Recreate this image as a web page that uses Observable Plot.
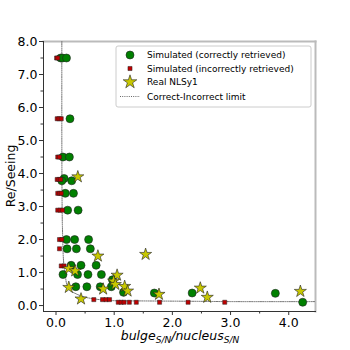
<!DOCTYPE html>
<html><head><meta charset="utf-8">
<script src="https://cdn.jsdelivr.net/npm/d3@7"></script>
<script src="https://cdn.jsdelivr.net/npm/@observablehq/plot@0.6"></script>
<style>body{margin:0;background:#fff} svg{font-family:"DejaVu Sans"}</style>
</head><body><div id="chart"></div>
<script>
// Simulated (correctly retrieved)
const correctX = [0.08,0.11,0.18, 0.24, 0.12,0.23, 0.14,0.10,0.27, 0.16,0.30, 0.20,0.38,
  0.18,0.32,0.56, 0.19,0.35,0.59, 0.26,0.43,0.69, 0.12,0.37,0.55,0.78,0.97,
  0.34,0.53,0.76,0.95,1.16, 1.69,2.34,3.77,4.24];
const correctY = [7.5,7.5,7.5, 5.66, 4.5,4.5, 3.85,3.78,3.78, 3.4,3.4, 2.89,2.89,
  2.0,2.0,2.0, 1.72,1.72,1.72, 1.22,1.22,1.22, 0.94,0.94,0.94,0.94,0.78,
  0.57,0.57,0.57,0.57,0.40, 0.38,0.38,0.37,0.10];
// Simulated (incorrectly retrieved)
const incorrectX = [0.01,0.03, 0.02,0.05,0.09, 0.03,0.06, 0.02,0.05,0.08, 0.03,0.06,0.09,
  0.03,0.07,0.11, 0.06,0.10, 0.06, 0.09,0.14,
  0.65,0.80,0.86,0.92, 1.07,1.12,1.17,1.26,1.38,1.78,2.27,2.90];
const incorrectY = [7.5,7.5, 5.66,5.66,5.66, 4.5,4.5, 3.82,3.82,3.82, 3.4,3.4,3.4,
  2.89,2.89,2.89, 2.0,2.0, 1.72, 1.2,1.2,
  0.18,0.18,0.18,0.18, 0.1,0.1,0.1,0.1,0.1,0.1,0.1,0.1];
// Real NLSy1
const realX = [0.375,0.72,1.54,0.22,0.33,1.05,0.99,1.02,0.22,0.81,1.18,1.23,0.43,1.77,2.48,2.60,4.20];
const realY = [3.90,1.50,1.55,1.12,1.05,0.92,0.74,0.64,0.55,0.50,0.58,0.44,0.20,0.34,0.53,0.25,0.43];
// Correct-Incorrect limit
const limitX = [0.10,0.10,0.105,0.11,0.13,0.16,0.19,0.25,0.34,0.45,0.62,0.97,1.5,2.3,3.0,4.46];
const limitY = [8.0,5.0,3.0,2.4,1.35,0.9,0.62,0.45,0.36,0.28,0.21,0.15,0.14,0.13,0.12,0.12];

const xTicks = [0,1,2,3,4];
const xMinorTicks = [0.5,1.5,2.5,3.5];
const yTicks = [0,1,2,3,4,5,6,7,8];
const yMinorTicks = [0.5,1.5,2.5,3.5,4.5,5.5,6.5,7.5];
const legendLabels = ["Simulated (correctly retrieved)","Simulated (incorrectly retrieved)","Real NLSy1","Correct-Incorrect limit"];

const rows = (xs, ys) => xs.map((x, i) => ({x, y: ys[i]}));
const correct = rows(correctX, correctY);
const incorrect = rows(incorrectX, incorrectY);
const real = rows(realX, realY);
const limit = rows(limitX, limitY);

const colGreen = "#008000", colRed = "#c00000", colYellow = "#c8c800", edge = "#222";

const plot = Plot.plot({
  width: 350, height: 350,
  marginLeft: 43, marginRight: 35, marginTop: 41, marginBottom: 39,
  style: {fontFamily: "DejaVu Sans", fontSize: "12.5px", color: "#000", background: "#fff", overflow: "visible"},
  x: {domain: [-0.215, 4.46]},
  y: {domain: [-0.18, 8.0]},
  marks: [
    Plot.frame({anchor: "top", stroke: "#bbb", strokeWidth: 2}),
    Plot.frame({anchor: "right", stroke: "#bbb", strokeWidth: 2}),
    Plot.frame({anchor: "left", stroke: "#333", strokeWidth: 1}),
    Plot.frame({anchor: "bottom", stroke: "#333", strokeWidth: 1}),
    Plot.line(limit, {x: "x", y: "y", stroke: "#666", strokeWidth: 1, strokeDasharray: "1,1.2", curve: "catmull-rom"}),
    Plot.dot(correct, {x: "x", y: "y", r: 4, fill: colGreen, stroke: edge, strokeWidth: 0.6}),
    Plot.dot(incorrect, {x: "x", y: "y", symbol: "square", r: 2.3, fill: colRed, stroke: edge, strokeWidth: 0.5}),
    Plot.dot(real, {x: "x", y: "y", symbol: "star", r: 3.8, fill: colYellow, stroke: edge, strokeWidth: 0.6}),
    Plot.axisX({ticks: xTicks, tickFormat: d => d.toFixed(1), tickSize: 4, tickPadding: 3, label: null, stroke: "#333"}),
    Plot.axisX({ticks: xMinorTicks, tickFormat: () => "", tickSize: 2.5, label: null, stroke: "#333"}),
    Plot.axisY({ticks: yTicks, tickFormat: d => d.toFixed(1), tickSize: 4, tickPadding: 2, label: null, stroke: "#333"}),
    Plot.axisY({ticks: yMinorTicks, tickFormat: () => "", tickSize: 2.5, label: null, stroke: "#333"})
  ]
});
document.getElementById("chart").appendChild(plot);

const svg = d3.select(plot);
// axis titles
svg.append("text")
  .attr("transform", "translate(15,176) rotate(-90)")
  .attr("text-anchor", "middle").attr("font-size", 12.5).attr("fill", "#000")
  .text("Re/Seeing");
const xl = svg.append("text").attr("x", 180).attr("y", 340)
  .attr("text-anchor", "middle").attr("font-size", 12.5).attr("font-style", "italic").attr("fill", "#000");
xl.append("tspan").text("bulge");
xl.append("tspan").attr("font-size", 9).attr("dy", 3).text("S/N");
xl.append("tspan").attr("dy", -3).text("/nucleus");
xl.append("tspan").attr("font-size", 9).attr("dy", 3).text("S/N");

// legend
const lg = svg.append("g").attr("text-anchor", "start");
lg.append("rect").attr("x", 116).attr("y", 46).attr("width", 195).attr("height", 61)
  .attr("rx", 2).attr("fill", "#fff").attr("fill-opacity", 0.85).attr("stroke", "#ccc").attr("stroke-width", 1);
const rowsY = [55, 68.5, 82, 96.5];
lg.append("circle").attr("cx", 130).attr("cy", rowsY[0]).attr("r", 4).attr("fill", colGreen).attr("stroke", edge).attr("stroke-width", 0.6);
lg.append("path").attr("d", d3.symbol(d3.symbolSquare, 2.3*2.3*Math.PI)()).attr("transform", `translate(130,${rowsY[1]})`)
  .attr("fill", colRed).attr("stroke", edge).attr("stroke-width", 0.5);
lg.append("path").attr("d", d3.symbol(d3.symbolStar, 4.3*4.3*Math.PI)()).attr("transform", `translate(130,${rowsY[2]})`)
  .attr("fill", colYellow).attr("stroke", edge).attr("stroke-width", 0.6);
lg.append("line").attr("x1", 120).attr("x2", 140).attr("y1", rowsY[3]).attr("y2", rowsY[3])
  .attr("stroke", "#666").attr("stroke-width", 1).attr("stroke-dasharray", "1,1.2");
legendLabels.forEach((t, i) => {
  lg.append("text").attr("x", 147).attr("y", rowsY[i]).attr("dy", "0.35em")
    .attr("text-anchor", "start").attr("font-size", 9).attr("fill", "#000").text(t);
});
</script></body></html>
